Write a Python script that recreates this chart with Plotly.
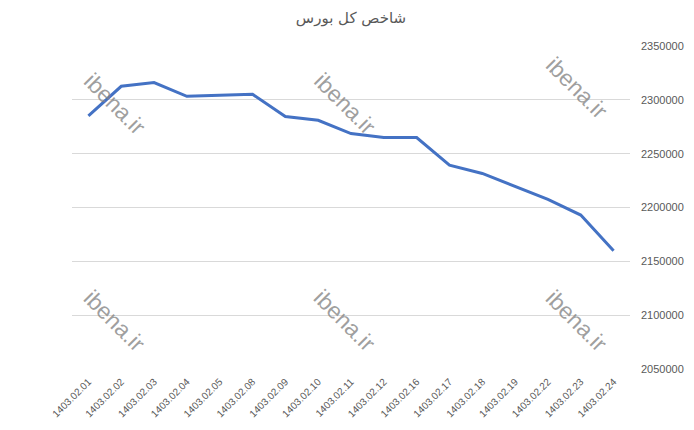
import plotly.graph_objects as go

dates = ["1403.02.01", "1403.02.02", "1403.02.03", "1403.02.04", "1403.02.05",
         "1403.02.08", "1403.02.09", "1403.02.10", "1403.02.11", "1403.02.12",
         "1403.02.16", "1403.02.17", "1403.02.18", "1403.02.19", "1403.02.22",
         "1403.02.23", "1403.02.24"]
index_values = [2285200, 2312600, 2316000, 2303300, 2304200,
                2305200, 2284500, 2281000, 2268700, 2265000,
                2265000, 2239300, 2231600, 2219200, 2207500,
                2193000, 2159800]
y_ticks = [2050000, 2100000, 2150000, 2200000, 2250000, 2300000, 2350000]
title_text = "شاخص کل بورس"
watermark = "ibena.ir"

fig = go.Figure()
fig.add_trace(go.Scatter(
    x=dates, y=index_values, mode="lines",
    line=dict(color="#4472C4", width=3),
    hoverinfo="x+y", showlegend=False,
))

wm_pos = [(0.077, 0.82), (0.49, 0.82), (0.905, 0.87),
          (0.077, 0.15), (0.49, 0.15), (0.905, 0.15)]
annotations = []
for (xx, yy) in wm_pos:
    annotations.append(dict(
        text=watermark, xref="paper", yref="paper", x=xx, y=yy,
        xanchor="center", yanchor="middle",
        showarrow=False, textangle=45,
        font=dict(family="Liberation Sans", size=23, color="rgba(128,128,128,0.75)"),
    ))

fig.update_layout(
    width=694, height=430,
    margin=dict(l=64, r=72, t=38, b=69),
    paper_bgcolor="white", plot_bgcolor="white",
    title=dict(text=title_text, x=0.5, xanchor="center",
               xref="paper", yref="container", y=0.977, yanchor="middle",
               automargin=False,
               font=dict(family="DejaVu Sans", size=15, color="#595959")),
    xaxis=dict(
        type="category", tickangle=-45, showgrid=False, showline=False,
        ticks="", zeroline=False, automargin=False,
        range=[-0.5, len(dates) - 0.5], ticklabelstandoff=4,
        tickfont=dict(family="Liberation Sans", size=10, color="#595959"),
    ),
    yaxis=dict(
        side="right", range=[2050000, 2350000], tickvals=y_ticks,
        ticktext=[str(v) for v in y_ticks],
        showgrid=True, gridcolor="#d9d9d9", gridwidth=1,
        zeroline=False, showline=False, ticks="", automargin=False,
        ticklabelstandoff=10,
        tickfont=dict(family="Liberation Sans", size=11, color="#595959"),
    ),
    annotations=annotations,
)

fig.write_html("out.html")
